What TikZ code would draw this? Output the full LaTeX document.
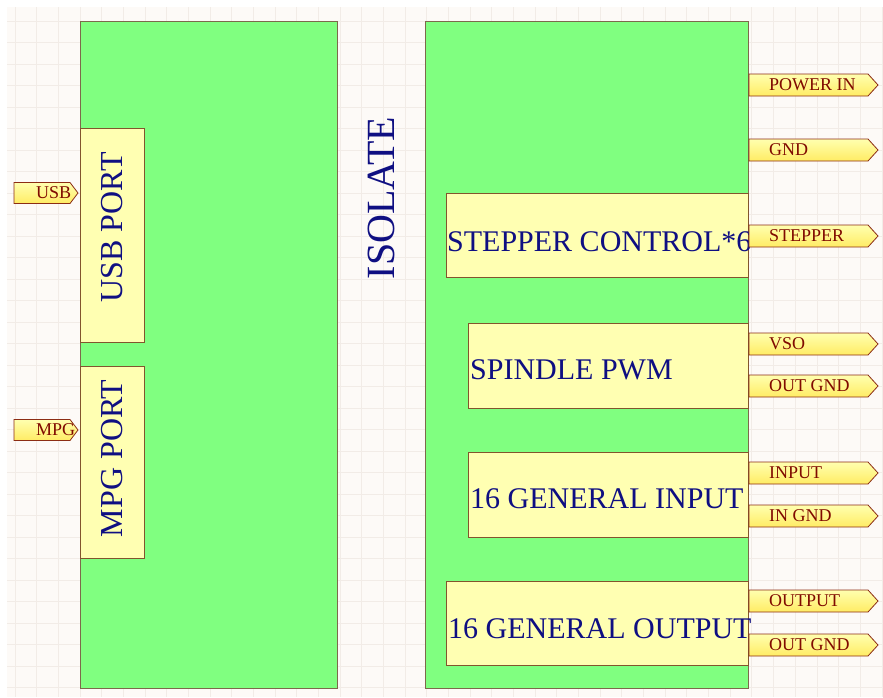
\documentclass[tikz,border=0pt]{standalone}
\usepackage{fontspec}
\setmainfont{Liberation Serif}
\usetikzlibrary{positioning}
\definecolor{SheetBg}{RGB}{253,250,247}
\definecolor{GridLine}{RGB}{242,236,231}
\definecolor{BlockGreen}{RGB}{128,255,128}
\definecolor{BlockEdge}{RGB}{125,105,75}
\definecolor{SubYellow}{RGB}{255,255,178}
\definecolor{SubEdge}{RGB}{130,85,45}
\definecolor{PortEdge}{RGB}{140,45,20}
\definecolor{PortTop}{RGB}{255,255,175}
\definecolor{PortBottom}{RGB}{255,236,100}
\definecolor{PortText}{RGB}{128,10,0}
\definecolor{NavyText}{RGB}{15,15,130}
\tikzset{
  gridline/.style={draw=GridLine,line width=0.6pt},
  block/.style={rectangle,draw=BlockEdge,fill=BlockGreen,line width=1pt,
    anchor=north west,inner sep=0pt},
  subbox/.style={rectangle,draw=SubEdge,fill=SubYellow,line width=0.8pt,
    anchor=north west,inner sep=0pt},
  boxtext/.style={text=NavyText,font=\fontsize{30}{31}\selectfont,inner sep=0pt},
  porttext/.style={text=PortText,font=\fontsize{18}{18}\selectfont,inner sep=0pt,
    anchor=west},
  portline/.style={draw=PortEdge,line width=0.8pt,
    top color=PortTop,bottom color=PortBottom}
}
\begin{document}
\begin{tikzpicture}[x=1pt,y=-1pt]
  \useasboundingbox (0,0) rectangle (883,697);
  % sheet and grid
  \fill[SheetBg] (7,7) rectangle (883,697);
  \foreach \k in {0,...,40}
    \draw[gridline] ({15+21.67*\k},7) -- ({15+21.67*\k},697);
  \foreach \k in {0,...,31}
    \draw[gridline] (7,{21+21.5*\k}) -- (883,{21+21.5*\k});

  % main blocks
  \node[block,minimum width=257pt,minimum height=667pt] (host) at (80,21) {};
  \node[block,minimum width=323pt,minimum height=667pt] (board) at (425,21) {};
  \node[boxtext,rotate=90,font=\fontsize{40}{40}\selectfont] (iso) at (381,198) {ISOLATE};

  % left block ports
  \node[subbox,minimum width=64pt,minimum height=214pt] (usbbox) at (80,128) {};
  \node[subbox,minimum width=64pt,minimum height=192pt] (mpgbox) at (80,366) {};
  \node[boxtext,rotate=90,font=\fontsize{32}{32}\selectfont] (usbtxt) at ([yshift=8pt]usbbox.center) {USB PORT};
  \node[boxtext,rotate=90,font=\fontsize{32}{32}\selectfont] (mpgtxt) at ([yshift=4pt]mpgbox.center) {MPG PORT};

  % right block functions
  \node[subbox,minimum width=302pt,minimum height=84pt] (stepper) at (446,193) {};
  \node[subbox,minimum width=280pt,minimum height=85pt] (spindle) at (468,323) {};
  \node[subbox,minimum width=280pt,minimum height=85pt] (input) at (468,452) {};
  \node[subbox,minimum width=302pt,minimum height=84pt] (output) at (446,581) {};
  \node[boxtext,anchor=west] (steppertxt) at ([xshift=1pt,yshift=-6pt]stepper.west) {STEPPER CONTROL*6};
  \node[boxtext,anchor=west] (spindletxt) at ([xshift=2pt,yshift=-4pt]spindle.west) {SPINDLE PWM};
  \node[boxtext,anchor=west] (inputtxt) at ([xshift=2pt,yshift=-4pt]input.west) {16 GENERAL INPUT};
  \node[boxtext,anchor=west] (outputtxt) at ([xshift=2pt,yshift=-5pt]output.west) {16 GENERAL OUTPUT};

  % input ports
  \foreach \n/\y/\t in {usb/193/USB,mpg/430/MPG}{
    \draw[portline] (14,\y-10.5) -- (70,\y-10.5) -- (78,\y) -- (70,\y+10.5) -- (14,\y+10.5) -- cycle;
    \node[porttext] (\n) at (36,\y) {\t};
  }
  % output ports
  \foreach \n/\y/\t in {pwr/85/POWER IN,gnd/150/GND,stp/236/STEPPER,vso/344/VSO,
      ognda/386/OUT GND,inp/473/INPUT,ingnd/516/IN GND,outp/601/OUTPUT,ogndb/645/OUT GND}{
    \draw[portline] (749,\y-11) -- (868,\y-11) -- (878,\y) -- (868,\y+11) -- (749,\y+11) -- cycle;
    \node[porttext] (\n) at (769,\y) {\t};
  }
\end{tikzpicture}
\end{document}
